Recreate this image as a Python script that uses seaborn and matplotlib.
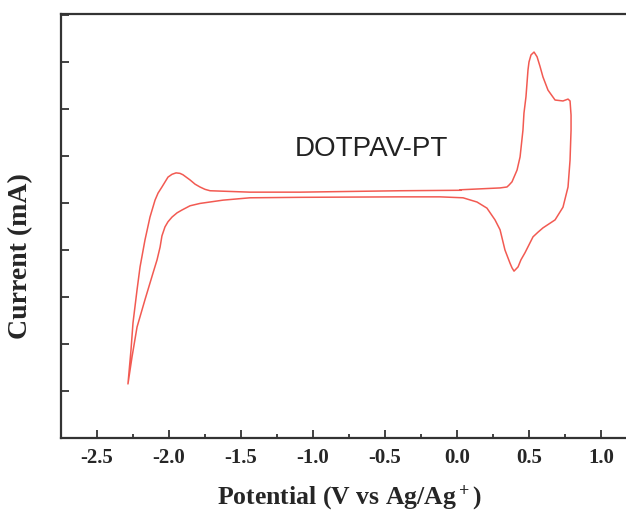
import matplotlib
matplotlib.use("Agg")
import matplotlib.pyplot as plt
import numpy as np
import pandas as pd
import seaborn as sns
from matplotlib.ticker import MultipleLocator, FormatStrFormatter

# cyclic voltammogram of DOTPAV-PT (current in arbitrary units)
potential = [0.021, 0.160, 0.299, 0.347, 0.361, 0.382, 0.417, 0.438, 0.458, 0.465,
             0.479, 0.493, 0.500, 0.514, 0.535, 0.556, 0.576, 0.597, 0.632, 0.660,
             0.681, 0.736, 0.771, 0.785, 0.792, 0.792, 0.785, 0.771, 0.736, 0.681,
             0.597, 0.563, 0.528, 0.472, 0.444, 0.424, 0.396, 0.382, 0.368, 0.333,
             0.299, 0.264, 0.208, 0.139, 0.042, -0.118, -0.396, -1.090, -1.438, -1.625,
             -1.785, -1.854, -1.910, -1.944, -1.979, -2.007, -2.028, -2.049, -2.062, -2.083,
             -2.111, -2.167, -2.222, -2.257, -2.285, -2.264, -2.250, -2.222, -2.201, -2.167,
             -2.132, -2.097, -2.076, -2.049, -2.007, -1.979, -1.951, -1.924, -1.903, -1.854,
             -1.819, -1.785, -1.750, -1.715, -1.438, -1.090, -0.396, 0.030]
current = [5.28, 5.30, 5.32, 5.34, 5.38, 5.45, 5.70, 5.98, 6.55, 6.91,
           7.26, 7.83, 8.00, 8.15, 8.21, 8.11, 7.91, 7.68, 7.40, 7.28,
           7.19, 7.17, 7.21, 7.17, 6.87, 6.55, 5.91, 5.34, 4.91, 4.64,
           4.47, 4.38, 4.28, 3.94, 3.79, 3.64, 3.55, 3.62, 3.72, 4.00,
           4.43, 4.64, 4.89, 5.02, 5.11, 5.13, 5.13, 5.12, 5.11, 5.06,
           4.99, 4.94, 4.85, 4.79, 4.70, 4.60, 4.49, 4.30, 4.06, 3.79,
           3.51, 2.94, 2.36, 1.72, 1.15, 1.87, 2.45, 3.15, 3.64, 4.21,
           4.70, 5.06, 5.21, 5.34, 5.55, 5.61, 5.64, 5.63, 5.60, 5.49,
           5.40, 5.34, 5.29, 5.26, 5.23, 5.23, 5.26, 5.27]

df = pd.DataFrame({"Potential": potential, "Current": current})

sns.set_style("ticks")
plt.rcParams["mathtext.fontset"] = "custom"
plt.rcParams["mathtext.rm"] = "Liberation Serif:bold"
plt.rcParams["mathtext.it"] = "Liberation Serif:bold"
plt.rcParams["mathtext.bf"] = "Liberation Serif:bold"

fig = plt.figure(figsize=(6.26, 5.11), dpi=100)
ax = fig.add_axes([61 / 626, 73 / 511, 576 / 626, 424 / 511])

sns.lineplot(data=df, x="Potential", y="Current", sort=False, estimator=None,
             color="#f25a52", lw=1.1, ax=ax)

ax.set_xlim(-2.75, 1.25)
ax.set_ylim(0, 9.02)
ax.xaxis.set_major_locator(MultipleLocator(0.5))
ax.xaxis.set_minor_locator(MultipleLocator(0.25))
ax.xaxis.set_major_formatter(FormatStrFormatter("%.1f"))
ax.yaxis.set_major_locator(MultipleLocator(1))
ax.set_yticklabels([])
ax.tick_params(which="major", direction="in", length=6, width=1.3, color="#333333")
ax.tick_params(which="minor", direction="in", length=3, width=1.3, color="#333333")
ax.tick_params(axis="x", labelsize=15, pad=7)
for lab in ax.get_xticklabels():
    lab.set_family("Liberation Serif")
    lab.set_weight("bold")
for s in ax.spines.values():
    s.set_linewidth(1.6)
    s.set_color("#333333")

ax.set_xlabel("Potential (V vs Ag/Ag$^+$)", family="Liberation Serif", weight="bold",
              fontsize=18.5, labelpad=11)
ax.set_ylabel("Current (mA)", family="Liberation Serif", weight="bold", fontsize=20)
ax.yaxis.set_label_coords(-0.049, 0.43)

ax.text(-1.125, 6.15, "DOTPAV-PT", family="Liberation Sans", fontsize=20,
        color="#222222", ha="left", va="center")

fig.savefig("out.png", dpi=100)
plt.close(fig)
